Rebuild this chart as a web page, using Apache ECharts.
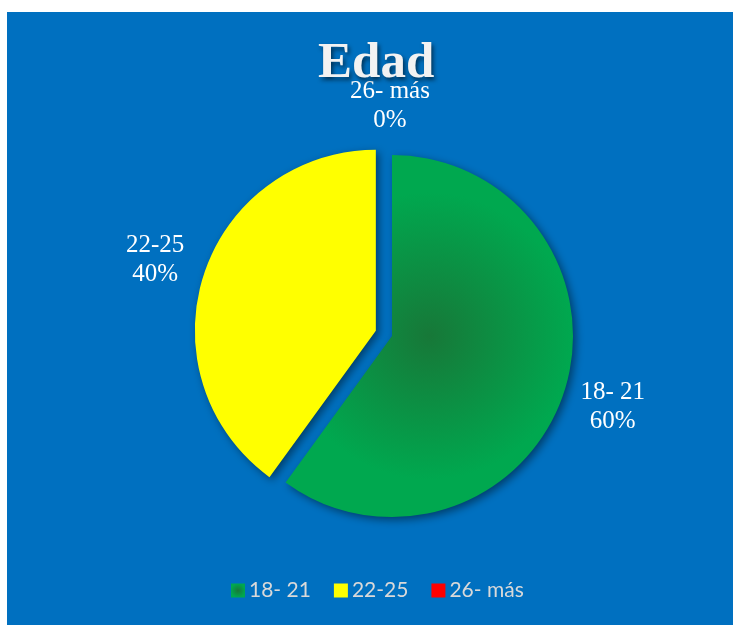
<!DOCTYPE html>
<html>
<head>
<meta charset="utf-8">
<script src="https://cdn.jsdelivr.net/npm/echarts@6/dist/echarts.min.js"></script>
<style>
  html, body { margin: 0; padding: 0; background: #fff; }
  #chart { position: absolute; left: 7px; top: 12px; width: 726px; height: 613px; }
</style>
</head>
<body>
<div id="chart"></div>
<script>
// datos
const categories = ['18- 21', '22-25', '26- más'];
const values = [60, 40, 0];
const exploded = [false, true, false];

const colors = [
  new echarts.graphic.RadialGradient(0.5, 0.5, 0.5, [
    { offset: 0, color: '#177838' },
    { offset: 1, color: '#00A84F' }
  ]),
  '#FFFF00',
  '#FF0000'
];

const myChart = echarts.init(document.getElementById('chart'));

const option = {
  backgroundColor: '#0070C0',
  animation: false,
  title: {
    text: 'Edad',
    left: 306,
    top: 21,
    padding: 5,
    textStyle: {
      fontFamily: 'Liberation Serif',
      fontWeight: 'bold',
      fontSize: 51,
      color: '#F2F2F2',
      textShadowColor: 'rgba(0,0,0,0.55)',
      textShadowBlur: 4,
      textShadowOffsetX: 2,
      textShadowOffsetY: 3
    }
  },
  legend: {
    bottom: 19,
    left: 219,
    padding: 5,
    itemWidth: 14,
    itemHeight: 14,
    itemGap: 23,
    icon: 'rect',
    textStyle: { fontFamily: 'Lato', fontSize: 21, color: '#D9D9D9', padding: [0, 0, 0, -1] },
    data: categories
  },
  series: [{
    type: 'pie',
    center: [385, 324],
    radius: 181,
    startAngle: 90,
    clockwise: true,
    avoidLabelOverlap: false,
    selectedMode: 'single',
    selectedOffset: 17,
    itemStyle: {
      shadowBlur: 8,
      shadowColor: 'rgba(0,0,0,0.45)',
      shadowOffsetX: 3,
      shadowOffsetY: 3
    },
    label: {
      show: true,
      position: 'outside',
      formatter: '{n|{b}}\n{n|{d}%}',
      rich: {
        n: {
          width: 90,
          align: 'center',
          fontFamily: 'Liberation Serif',
          fontSize: 25,
          lineHeight: 29,
          color: '#FFFFFF'
        }
      }
    },
    labelLine: { show: false, length: 49, length2: -48 },
    emphasis: { scale: false },
    data: categories.map((name, i) => ({
      name: name,
      value: values[i],
      selected: exploded[i],
      itemStyle: { color: colors[i] }
    }))
  }]
};

myChart.setOption(option);
window.addEventListener('resize', () => myChart.resize());
</script>
</body>
</html>
